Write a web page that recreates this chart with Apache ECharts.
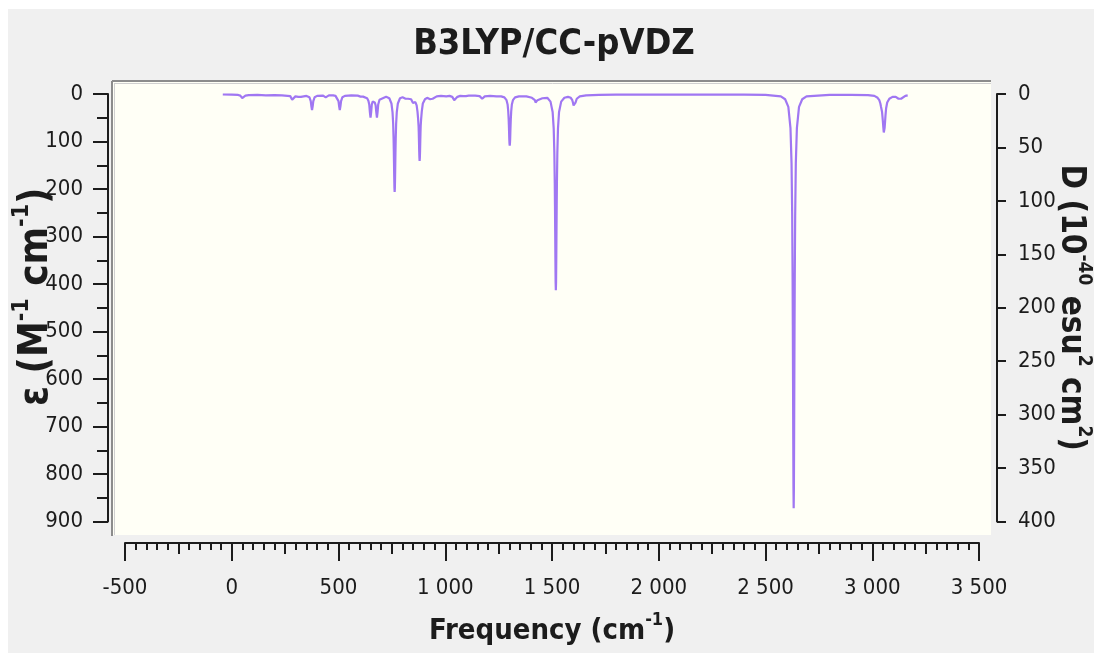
<!DOCTYPE html>
<html>
<head>
<meta charset="utf-8">
<style>
  html, body { margin: 0; padding: 0; background: #ffffff; }
  #chart { width: 1094px; height: 653px; }
</style>
<script src="https://cdn.jsdelivr.net/npm/echarts@6/dist/echarts.min.js"></script>
</head>
<body>
<div id="chart"></div>
<script>
// IR spectrum (B3LYP/cc-pVDZ): molar absorptivity vs wavenumber, [cm^-1, epsilon]
const spectrumPoints = [
  [-42,1],[0,1.5],[30,2],[40,3.5],[46,6],[49,8.5],[52,10],[55,8.5],[58,6],[64,3.5],[80,2.5],[120,2],[160,3],[200,2.5],[235,3],
  [274,4.5],[280,7.5],[283,12],[286,15],[289,12],[292,8],[298,5],
  [306,4],[312,6],[315,8.5],[318,10],[321,8.5],[324,6],[332,4],
  [350,4],[364,7],[370,15],[373,26],[376,34],[379,26],[382,15],[388,7],[400,4],
  [428,3.5],[434,4.5],[437,6],[440,7],[443,6],[446,4.5],[455,3],[475,3],
  [486,4],[494,7],[500,15],[503,26],[506,34],[509,26],[512,15],[518,7],[530,4],
  [560,3],[590,3.5],
  [597,4],[603,5.5],[606,7],[609,8],[612,7],[615,5.5],[622,5],
  [634,9],[640,14],[644,22],[647,38],[650,50],[653,38],[656,22],[660,16],[665,15],
  [670,18],[674,24],[677,38],[680,50],[683,38],[686,22],[692,12],[700,8],
  [723,6],[738,9],[748,20],[753,38],[756,62],[758,94],[759,117],[760,145],[761,174],[762,198],[763,206],[764,198],[765,174],[766,145],[767,117],[768,94],[770,62],[773,38],[778,20],[788,9],[800,7],
  [808,8],[814,10],[817,11.5],[820,12],[823,11.5],[826,10],[832,9],
  [840,11],[845,15],[849,19],[852,20],[855,18],[860,17],[866,24],[870,37],[873,53],[875,67],[876,81],[877,100],[878,120],[879,134],[880,141],[881,134],[882,120],[883,100],[884,81],[885,67],[887,53],[890,37],[895,20],[905,11],[915,8],
  [923,9],[929,11],[932,13],[935,15],[938,13],[941,10],[947,7],[960,5],[980,4],[1005,5],[1020,4],
  [1033,6],[1039,9],[1042,13],[1045,16],[1048,13],[1051,9],[1057,6],[1070,4],
  [1085,4.5],[1088,5.5],[1091,6],[1094,5.5],[1097,4.5],[1110,3.5],[1140,3.5],
  [1161,4.5],[1167,6.5],[1170,8.5],[1173,10],[1176,8.5],[1179,6.5],[1185,5],[1210,4],[1240,5],
  [1262,5],[1277,7],[1287,13],[1292,22],[1295,36],[1297,53],[1298,65],[1299,79],[1300,95],[1301,104],[1302,109],[1303,104],[1304,95],[1305,79],[1306,65],[1307,53],[1309,36],[1312,22],[1317,13],[1327,7],[1345,5],[1380,5],
  [1406,8],[1414,10],[1420,13],[1423,18],[1426,22],[1429,18],[1432,13],[1440,10],[1455,9],
  [1478,8],[1493,16],[1503,38],[1508,73],[1511,124],[1513,189],[1514,235],[1515,290],[1516,349],[1517,397],[1518,413],[1519,397],[1520,349],[1521,290],[1522,235],[1523,189],[1525,124],[1528,73],[1533,38],[1543,16],[1558,8],[1575,6],
  [1588,8],[1595,13],[1598,18],[1601,24],[1604,27],[1607,24],[1610,18],[1616,10],[1630,5],[1660,3],[1720,2],[1800,1.5],[1950,1.5],[2100,1.5],[2250,1.5],[2400,1.5],[2500,2],
  [2572,5],[2592,11],[2607,27],[2617,72],[2622,146],[2625,255],[2627,391],[2628,487],[2629,603],[2630,728],[2631,831],[2632,872],[2633,831],[2634,728],[2635,603],[2636,487],[2637,391],[2639,255],[2642,146],[2647,72],[2657,27],[2672,11],[2692,5],[2800,2],[2900,2],[2980,2.5],
  [3010,4],[3025,8],[3033,13],[3038,20],[3041,27],[3043,30],[3046,38],[3048,48],[3050,59],[3052,71],[3054,81],[3055,85],[3056,81],[3058,71],[3060,59],[3062,45],[3065,30],[3070,18],[3080,10],[3095,6],[3110,6],
  [3117,7],[3123,10],[3126,12],[3129,13],[3132,12],[3135,10],[3141,7],[3155,4],[3166,3]
];

// axis ranges and tick steps
const freqRange = [-500, 3500];
const epsRange = [0, 900];
const dipoleRange = [0, 400];
const freqStep = 500;
const epsStep = 100;
const dipoleStep = 50;

const FONT = "'DejaVu Sans Condensed', 'Liberation Sans', sans-serif";
const INK = '#1c1c1c';

function spaced(v) {
  const s = String(Math.abs(v));
  const out = s.replace(/\B(?=(\d{3})+(?!\d))/g, ' ');
  return (v < 0 ? '-' : '') + out;
}

const chart = echarts.init(document.getElementById('chart'), null, { renderer: 'canvas' });

const tickLine = { color: INK, width: 2 };
const labelStyle = { color: INK, fontFamily: FONT, fontSize: 22 };
const gridBox = { left: 125, right: 115, top: 94, bottom: 131.5, containLabel: false, outerBoundsMode: 'none' };

function nameRich(big, small) {
  return {
    a: { fontFamily: FONT, fontWeight: 'bold', fontSize: big, color: INK, lineHeight: big + 6, verticalAlign: 'bottom' },
    s: { fontFamily: FONT, fontWeight: 'bold', fontSize: small, color: INK, lineHeight: small, verticalAlign: 'top' }
  };
}

const option = {
  animation: false,
  backgroundColor: '#ffffff',
  graphic: [
    { type: 'rect', z: -20, shape: { x: 8, y: 9, width: 1086, height: 644 }, style: { fill: '#f0f0f0' } },
    { type: 'rect', z: -10, shape: { x: 113, y: 82, width: 878, height: 453 }, style: { fill: '#fffff6' } },
    { type: 'line', z: -5, shape: { x1: 112, y1: 81, x2: 991, y2: 81 }, style: { stroke: '#8c8c8c', lineWidth: 2 } },
    { type: 'line', z: -5, shape: { x1: 112, y1: 81, x2: 112, y2: 536 }, style: { stroke: '#8c8c8c', lineWidth: 2 } },
    { type: 'line', z: -5, shape: { x1: 114, y1: 83.5, x2: 991, y2: 83.5 }, style: { stroke: '#d0d0d0', lineWidth: 1 } },
    { type: 'line', z: -5, shape: { x1: 114.5, y1: 83, x2: 114.5, y2: 535 }, style: { stroke: '#d0d0d0', lineWidth: 1 } },
    { type: 'text', z: 5, x: 554, y: 45,
      style: { text: 'B3LYP/CC-pVDZ', fill: INK, font: "bold 36px " + FONT, textAlign: 'center', textVerticalAlign: 'middle' } }
  ],
  grid: [ gridBox, Object.assign({}, gridBox) ],
  xAxis: [
    {
      gridIndex: 0,
      type: 'value', min: freqRange[0], max: freqRange[1], interval: freqStep,
      position: 'bottom', offset: 21.5,
      name: '{a|Frequency (cm}{s|-1}{a|)}',
      nameLocation: 'middle', nameGap: 68, nameMoveOverlap: false,
      nameTextStyle: { rich: nameRich(29, 18) },
      axisLine: { show: true, onZero: false, lineStyle: tickLine },
      axisTick: { show: true, length: 18, lineStyle: tickLine },
      minorTick: { show: true, splitNumber: 10, length: 7, lineStyle: { color: INK, width: 2 } },
      axisLabel: { ...labelStyle, margin: 34, formatter: spaced },
      splitLine: { show: false }, minorSplitLine: { show: false }
    },
    {
      // half-step ticks of medium length on the same frequency scale
      gridIndex: 1,
      type: 'value', min: freqRange[0], max: freqRange[1], interval: freqStep / 2,
      position: 'bottom', offset: 21.5,
      axisLine: { show: false, onZero: false },
      axisTick: { show: true, length: 11, lineStyle: tickLine },
      axisLabel: { show: false },
      splitLine: { show: false }
    }
  ],
  yAxis: [
    {
      gridIndex: 0,
      type: 'value', inverse: true, min: epsRange[0], max: epsRange[1], interval: epsStep,
      position: 'left', offset: 17,
      name: '{a|ε (M}{s|-1}{a| cm}{s|-1}{a|)}',
      nameLocation: 'middle', nameGap: 51, nameMoveOverlap: false,
      nameTextStyle: { rich: nameRich(40, 23), padding: [0, 0, 0, 22] },
      axisLine: { show: true, onZero: false, lineStyle: tickLine },
      axisTick: { show: true, length: 15, lineStyle: tickLine },
      minorTick: { show: true, splitNumber: 2, length: 11, lineStyle: tickLine },
      axisLabel: { ...labelStyle, margin: 25 },
      splitLine: { show: false }, minorSplitLine: { show: false }
    },
    {
      gridIndex: 0,
      type: 'value', inverse: true, min: dipoleRange[0], max: dipoleRange[1], interval: dipoleStep,
      position: 'right', offset: 18,
      name: '{a|D (10}{s|-40}{a| esu}{s|2}{a| cm}{s|2}{a|)}',
      nameLocation: 'middle', nameGap: 57, nameRotate: -90, nameMoveOverlap: false,
      nameTextStyle: { rich: nameRich(33, 19) },
      axisLine: { show: true, onZero: false, lineStyle: tickLine },
      axisTick: { show: true, length: 9, lineStyle: tickLine },
      axisLabel: { ...labelStyle, margin: 21 },
      splitLine: { show: false }
    },
    {
      gridIndex: 1,
      type: 'value', show: false, min: 0, max: 1
    }
  ],
  series: [
    {
      type: 'line', xAxisIndex: 0, yAxisIndex: 0,
      data: spectrumPoints, showSymbol: false, symbol: 'none',
      lineStyle: { color: '#a077f2', width: 2.2 },
      z: 3, clip: false
    }
  ]
};

chart.setOption(option);
</script>
</body>
</html>
